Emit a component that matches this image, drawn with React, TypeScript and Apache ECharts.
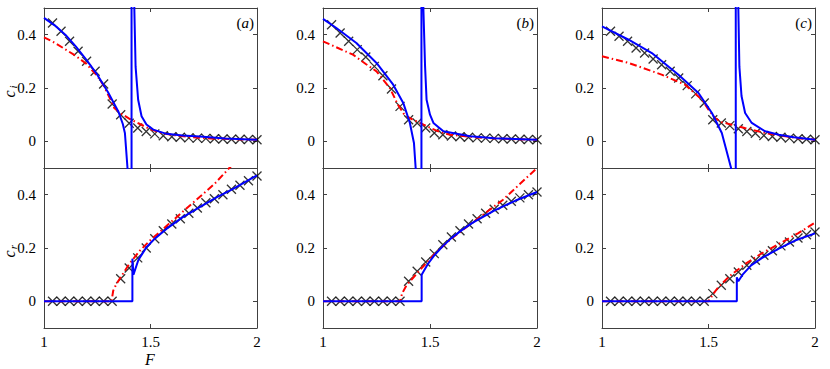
import React, { useEffect, useRef } from "react";
import * as echarts from "echarts";

// ---------- data ----------
const crossF = [1.04, 1.08, 1.12, 1.16, 1.2, 1.24, 1.28, 1.32, 1.36, 1.4, 1.44, 1.48, 1.52, 1.56, 1.6, 1.64, 1.68, 1.72, 1.76, 1.8, 1.84, 1.88, 1.92, 1.96, 2.0];

const xTickLabels = [1, 1.5, 2];
const xTicks = [1.5];
const yTickLabels = [0, 0.2, 0.4];

// panel (a)
const aTopBlue = [[1.0, 0.463], [1.05, 0.435], [1.1, 0.4], [1.15, 0.355], [1.2, 0.305], [1.25, 0.25], [1.3, 0.185], [1.33, 0.14], [1.35, 0.11], [1.37, 0.065], [1.38, 0.03], [1.392, -0.1], [1.4, -0.4], [1.405, -3], [1.411, -3], [1.411, 3], [1.42, 3], [1.424, 0.5], [1.43, 0.28], [1.442, 0.156], [1.458, 0.094], [1.481, 0.063], [1.513, 0.044], [1.575, 0.028], [1.65, 0.022], [1.732, 0.018], [1.85, 0.011], [2.0, 0.006]];
const aTopRed = [[1.0, 0.39], [1.05, 0.37], [1.1, 0.345], [1.15, 0.32], [1.2, 0.29], [1.25, 0.245], [1.28, 0.21], [1.31, 0.16], [1.33, 0.125], [1.36, 0.105], [1.4, 0.085], [1.45, 0.065], [1.5, 0.045], [1.55, 0.032], [1.6, 0.024], [1.7, 0.015], [1.8, 0.01], [1.9, 0.008], [2.0, 0.006]];
const aTopCross = [0.444, 0.413, 0.375, 0.338, 0.3, 0.263, 0.215, 0.14, 0.1, 0.068, 0.05, 0.037, 0.028, 0.021, 0.017, 0.015, 0.013, 0.012, 0.011, 0.01, 0.009, 0.008, 0.008, 0.007, 0.006];
const aBotBlue = [[1.0, 0], [1.415, 0], [1.415, 0.16], [1.42, 0.1], [1.443, 0.155], [1.482, 0.204], [1.52, 0.235], [1.576, 0.2725], [1.65, 0.315], [1.733, 0.354], [1.81, 0.39], [1.89, 0.4225], [2.0, 0.4725]];
const aBotRed = [[1.0, 0], [1.317, 0], [1.325, 0.04], [1.34, 0.065], [1.36, 0.09], [1.4, 0.14], [1.45, 0.19], [1.5, 0.23], [1.6, 0.3], [1.7, 0.37], [1.8, 0.44], [1.87, 0.5], [2.0, 0.6]];
const aBotCross = [0, 0, 0, 0, 0, 0, 0, 0, 0.085, 0.125, 0.163, 0.2, 0.235, 0.265, 0.29, 0.31, 0.33, 0.35, 0.37, 0.385, 0.4, 0.42, 0.435, 0.452, 0.47];

// panel (b)
const bTopBlue = [[1.0, 0.459], [1.0625, 0.425], [1.156, 0.369], [1.25, 0.294], [1.328, 0.2125], [1.375, 0.144], [1.406, 0.069], [1.425, -0.006], [1.433, -0.1], [1.44, -0.4], [1.445, -3], [1.46, -3], [1.46, 3], [1.465, 3], [1.469, 0.5], [1.477, 0.28], [1.484, 0.156], [1.5, 0.1], [1.516, 0.069], [1.5625, 0.0375], [1.6875, 0.019], [1.8, 0.012], [2.0, 0.006]];
const bTopRed = [[1.0, 0.375], [1.07, 0.35], [1.14, 0.325], [1.2, 0.29], [1.25, 0.2625], [1.3125, 0.2], [1.35, 0.1375], [1.38, 0.1], [1.41, 0.085], [1.4375, 0.075], [1.47, 0.0625], [1.53, 0.04], [1.59, 0.025], [1.7, 0.016], [1.8, 0.011], [1.9, 0.008], [2.0, 0.006]];
const bTopCross = [0.437, 0.406, 0.375, 0.344, 0.316, 0.281, 0.246, 0.196, 0.131, 0.081, 0.069, 0.05, 0.031, 0.025, 0.02, 0.017, 0.015, 0.013, 0.012, 0.011, 0.01, 0.009, 0.008, 0.007, 0.006];
const bBotBlue = [[1.0, 0], [1.461, 0], [1.461, 0.1], [1.49, 0.14], [1.52, 0.172], [1.56, 0.207], [1.6, 0.237], [1.65, 0.268], [1.7, 0.295], [1.8, 0.34], [1.9, 0.378], [2.0, 0.41]];
const bBotRed = [[1.0, 0], [1.36, 0], [1.37, 0.03], [1.39, 0.06], [1.45, 0.115], [1.53, 0.185], [1.6, 0.235], [1.69, 0.29], [1.84, 0.38], [2.0, 0.5]];
const bBotCross = [0, 0, 0, 0, 0, 0, 0, 0, 0, 0.075, 0.1125, 0.1475, 0.179, 0.2125, 0.241, 0.265, 0.29, 0.31, 0.33, 0.345, 0.36, 0.375, 0.388, 0.4, 0.41];

// panel (c)
const cTopBlue = [[1.0, 0.431], [1.125, 0.381], [1.234, 0.331], [1.359, 0.25], [1.453, 0.181], [1.516, 0.106], [1.5625, 0.031], [1.606, -0.1], [1.615, -0.4], [1.62, -3], [1.628, -3], [1.628, 3], [1.635, 3], [1.64, 0.5], [1.645, 0.28], [1.655, 0.17], [1.672, 0.106], [1.703, 0.069], [1.766, 0.0375], [1.83, 0.025], [1.9, 0.015], [2.0, 0.006]];
const cTopRed = [[1.0, 0.319], [1.125, 0.294], [1.28, 0.25], [1.39, 0.2125], [1.47, 0.156], [1.5, 0.119], [1.53, 0.0875], [1.56, 0.072], [1.61, 0.0625], [1.67, 0.05], [1.766, 0.031], [1.85, 0.02], [1.92, 0.012], [2.0, 0.006]];
const cTopCross = [0.4125, 0.394, 0.375, 0.35, 0.331, 0.309, 0.287, 0.2625, 0.2375, 0.209, 0.178, 0.144, 0.081, 0.069, 0.059, 0.047, 0.037, 0.03, 0.022, 0.018, 0.015, 0.012, 0.01, 0.008, 0.006];
const cBotBlue = [[1.0, 0], [1.633, 0], [1.633, 0.09], [1.64, 0.075], [1.66, 0.1], [1.7, 0.135], [1.75, 0.162], [1.83, 0.198], [1.906, 0.228], [2.0, 0.255]];
const cBotRed = [[1.0, 0], [1.5, 0], [1.52, 0.025], [1.547, 0.054], [1.6, 0.095], [1.672, 0.14], [1.75, 0.18], [1.83, 0.215], [1.92, 0.255], [2.0, 0.295]];
const cBotCross = [0, 0, 0, 0, 0, 0, 0, 0, 0, 0, 0, 0, 0.029, 0.06, 0.085, 0.11, 0.135, 0.154, 0.173, 0.19, 0.208, 0.2225, 0.2375, 0.25, 0.26];

const panelLabels = ["a", "b", "c"];

// ---------- styling / layout ----------
const FONT = "Liberation Serif, Times New Roman, serif";
const AXIS = "#404040";
const BLUE = "#0000ff";
const RED = "#ff0000";

const colLeft = [44, 323, 602];
const colWidth = [213, 214, 213];
const rowTop = [8, 168];
const rowHeight = 160;

const panelData = [
  [aTopBlue, aTopRed, aTopCross],
  [bTopBlue, bTopRed, bTopCross],
  [cTopBlue, cTopRed, cTopCross],
  [aBotBlue, aBotRed, aBotCross],
  [bBotBlue, bBotRed, bBotCross],
  [cBotBlue, cBotRed, cBotCross],
];

function buildOption() {
  const grid: any[] = [];
  const xAxis: any[] = [];
  const yAxis: any[] = [];
  const series: any[] = [];
  const lineStyle = { color: AXIS, width: 1 };

  for (let g = 0; g < 6; g++) {
    const col = g % 3;
    const row = Math.floor(g / 3);
    grid.push({ left: colLeft[col], top: rowTop[row], width: colWidth[col], height: rowHeight, containLabel: false });
    const xBase = {
      type: "value", gridIndex: g, min: 1, max: 2,
      axisLine: { show: true, onZero: false, lineStyle },
      axisTick: { show: true, inside: true, length: 4, customValues: xTicks, lineStyle },
      splitLine: { show: false },
    };
    xAxis.push({
      ...xBase, position: "bottom",
      axisLabel: { show: row === 1, customValues: xTickLabels, fontFamily: FONT, fontSize: 15, color: "#000", margin: 6 },
    });
    xAxis.push({ ...xBase, position: "top", axisLabel: { show: false } });
    const yBase = {
      type: "value", gridIndex: g, min: -0.1, max: 0.5,
      axisLine: { show: true, onZero: false, lineStyle },
      axisTick: { show: true, inside: true, length: 4, customValues: yTickLabels, lineStyle },
      splitLine: { show: false },
    };
    yAxis.push({
      ...yBase, position: "left",
      axisLabel: { show: true, customValues: yTickLabels, fontFamily: FONT, fontSize: 15, color: "#000", margin: 8, formatter: (v: number) => String(v) },
    });
    yAxis.push({ ...yBase, position: "right", axisLabel: { show: false } });

    const [blue, red, cross] = panelData[g] as any;
    series.push({
      type: "scatter", xAxisIndex: 2 * g, yAxisIndex: 2 * g,
      data: crossF.map((f, i) => [f, cross[i]]),
      symbol: "path://M0,0L10,10M10,0L0,10", symbolSize: 9,
      itemStyle: { color: "rgba(0,0,0,0)", borderColor: "#000", borderWidth: 1.3 },
      z: 2,
    });
    series.push({
      type: "line", xAxisIndex: 2 * g, yAxisIndex: 2 * g, data: red,
      showSymbol: false, symbol: "none", clip: true,
      lineStyle: { color: RED, width: 2, type: [7, 3, 1.5, 3] }, z: 3,
    });
    series.push({
      type: "line", xAxisIndex: 2 * g, yAxisIndex: 2 * g, data: blue,
      showSymbol: false, symbol: "none", clip: true,
      lineStyle: { color: BLUE, width: 2 }, z: 4,
    });
  }

  const graphic: any[] = [];
  for (let c = 0; c < 3; c++) {
    graphic.push({
      type: "text", x: colLeft[c] + colWidth[c] - 3, y: 23,
      style: {
        text: `{p|(}{i|${panelLabels[c]}}{p|)}`,
        align: "right", verticalAlign: "middle",
        rich: {
          p: { fontFamily: FONT, fontSize: 15, fill: "#000" },
          i: { fontFamily: FONT, fontSize: 15, fontStyle: "italic", fill: "#000" },
        },
      },
    });
  }
  const ylabel = (y: number, sub: string) => ({
    type: "group", x: 9, y, rotation: Math.PI / 2,
    children: [
      { type: "text", x: -4, y: 0, style: { text: "c", fontFamily: FONT, fontSize: 16, fontStyle: "italic", fill: "#000", align: "center", verticalAlign: "middle" } },
      { type: "text", x: 3, y: 4, style: { text: sub, fontFamily: FONT, fontSize: 11, fontStyle: "italic", fill: "#000", align: "center", verticalAlign: "middle" } },
    ],
  });
  graphic.push(ylabel(90, "i"));
  graphic.push(ylabel(250, "r"));
  graphic.push({
    type: "text", x: 150, y: 359,
    style: { text: "F", fontFamily: FONT, fontSize: 16, fontStyle: "italic", fill: "#000", align: "center", verticalAlign: "middle" },
  });

  return { animation: false, backgroundColor: "#fff", grid, xAxis, yAxis, series, graphic };
}

export default function App() {
  const ref = useRef<HTMLDivElement>(null);
  useEffect(() => {
    if (!ref.current) return;
    const chart = echarts.init(ref.current, undefined, { renderer: "svg" });
    chart.setOption(buildOption() as any);
    return () => chart.dispose();
  }, []);
  return <div ref={ref} style={{ position: "fixed", left: 0, top: 0, width: 830, height: 369, background: "#fff" }} />;
}
